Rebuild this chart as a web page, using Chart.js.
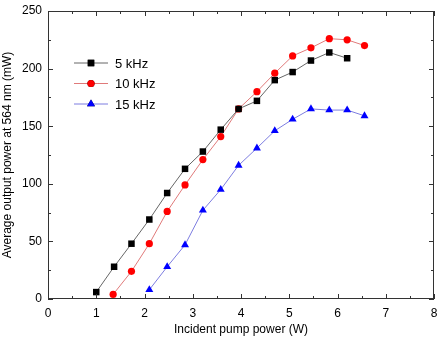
<!DOCTYPE html>
<html lang="en">
<head>
  <meta charset="UTF-8" />
  <title>Output power vs pump power</title>
  <script src="https://cdn.jsdelivr.net/npm/chart.js"></script>
  <style>
    html, body { margin: 0; padding: 0; background: #fff; }
    #wrap { width: 448px; height: 343px; }
  </style>
</head>
<body>
  <div id="wrap"><canvas id="grafico" width="448" height="343"></canvas></div>
  <script>
    // data
    const pump5 = [1.00, 1.37, 1.73, 2.10, 2.47, 2.84, 3.21, 3.58, 3.95, 4.33, 4.70, 5.07, 5.45, 5.83, 6.20];
    const power5 = [6, 28, 48, 69, 92, 113, 128, 147, 165, 172, 190, 197, 207, 214, 209];

    const pump10 = [1.35, 1.73, 2.10, 2.47, 2.84, 3.21, 3.58, 3.95, 4.33, 4.70, 5.07, 5.45, 5.83, 6.20, 6.56];
    const power10 = [4, 24, 48, 76, 99, 121, 141, 165, 180, 196, 211, 218, 226, 225, 220];

    const pump15 = [2.10, 2.47, 2.84, 3.21, 3.58, 3.95, 4.33, 4.70, 5.07, 5.45, 5.83, 6.20, 6.56];
    const power15 = [8, 28, 47, 77, 95, 116, 131, 146, 156, 165, 164, 164, 159];

    const seriesNames = ["5 kHz", "10 kHz", "15 kHz"];

    function pares(xs, ys) {
      return xs.map((x, i) => ({ x: x, y: ys[i] }));
    }

    const fonte = "'Liberation Sans', Arial, sans-serif";

    // frame + inward ticks + legend
    const moldura = {
      id: "moldura",
      afterDraw(chart) {
        const ctx = chart.ctx;
        const a = chart.chartArea;
        const sx = chart.scales.x, sy = chart.scales.y;
        ctx.save();
        ctx.strokeStyle = "#333";
        ctx.lineWidth = 1;
        ctx.strokeRect(a.left + 0.5, a.top + 0.5, a.right - a.left - 1, a.bottom - a.top - 1);
        ctx.beginPath();
        for (let v = 0; v <= 8.001; v += 0.5) {
          const px = Math.round(sx.getPixelForValue(v)) + 0.5;
          const len = Math.abs(v - Math.round(v)) < 0.01 ? 5 : 3;
          ctx.moveTo(px, a.bottom); ctx.lineTo(px, a.bottom - len);
          ctx.moveTo(px, a.top); ctx.lineTo(px, a.top + len);
        }
        for (let v = 0; v <= 250; v += 25) {
          const py = Math.round(sy.getPixelForValue(v)) + 0.5;
          const len = v % 50 === 0 ? 5 : 3;
          ctx.moveTo(a.left, py); ctx.lineTo(a.left + len, py);
          ctx.moveTo(a.right, py); ctx.lineTo(a.right - len, py);
        }
        ctx.stroke();

        chart.data.datasets.forEach((ds, i) => {
          const y = 63 + i * 20.5;
          ctx.strokeStyle = ds.borderColor;
          ctx.lineWidth = 1;
          ctx.beginPath();
          ctx.moveTo(74, y); ctx.lineTo(108, y);
          ctx.stroke();
          Chart.helpers.drawPoint(ctx, {
            pointStyle: ds.pointStyle, radius: ds.pointRadius, rotation: 0, borderWidth: 0
          }, 91, y);
          ctx.fillStyle = ds.pointBackgroundColor;
          ctx.fill();
          ctx.fillStyle = "#000";
          ctx.font = "13px " + fonte;
          ctx.textBaseline = "middle";
          ctx.textAlign = "left";
          ctx.fillText(ds.label, 115, y + 1);
        });
        ctx.restore();
      }
    };

    function serie(nome, dados, linha, cor, estilo, raio) {
      return {
        label: nome,
        data: dados,
        borderColor: linha,
        borderWidth: 1,
        pointStyle: estilo,
        pointRadius: raio,
        pointBackgroundColor: cor,
        pointBorderColor: cor,
        pointBorderWidth: 0,
        tension: 0
      };
    }

    new Chart(document.getElementById("grafico"), {
      type: "line",
      data: {
        datasets: [
          serie(seriesNames[0], pares(pump5, power5), "#666", "#000", "rect", 4.6),
          serie(seriesNames[1], pares(pump10, power10), "#e07a7a", "#ff0000", "circle", 3.6),
          serie(seriesNames[2], pares(pump15, power15), "#7d7de0", "#0000ff", "triangle", 4.6)
        ]
      },
      options: {
        responsive: false,
        animation: false,
        layout: { padding: { top: 11, right: 14, left: 0, bottom: 0 } },
        plugins: { legend: { display: false }, tooltip: { enabled: false } },
        scales: {
          x: {
            type: "linear",
            min: 0, max: 8,
            grid: { display: false, drawTicks: false },
            border: { display: false },
            ticks: { stepSize: 1, color: "#000", padding: 7, font: { family: fonte, size: 12 } },
            title: { display: true, text: "Incident pump power (W)", color: "#000", padding: { top: 3, bottom: 6 }, font: { family: fonte, size: 12 } },
            afterFit(s) { s.height = 44; s.paddingLeft = 0; s.paddingRight = 0; }
          },
          y: {
            min: 0, max: 250,
            grid: { display: false, drawTicks: false },
            border: { display: false },
            ticks: { stepSize: 50, color: "#000", padding: 6, font: { family: fonte, size: 12 } },
            title: { display: true, text: "Average output power at 564 nm (mW)", color: "#000", padding: { top: 0, bottom: 6 }, font: { family: fonte, size: 12 } },
            afterFit(s) { s.width = 48; s.paddingTop = 0; s.paddingBottom = 0; }
          }
        }
      },
      plugins: [moldura]
    });
  </script>
</body>
</html>
